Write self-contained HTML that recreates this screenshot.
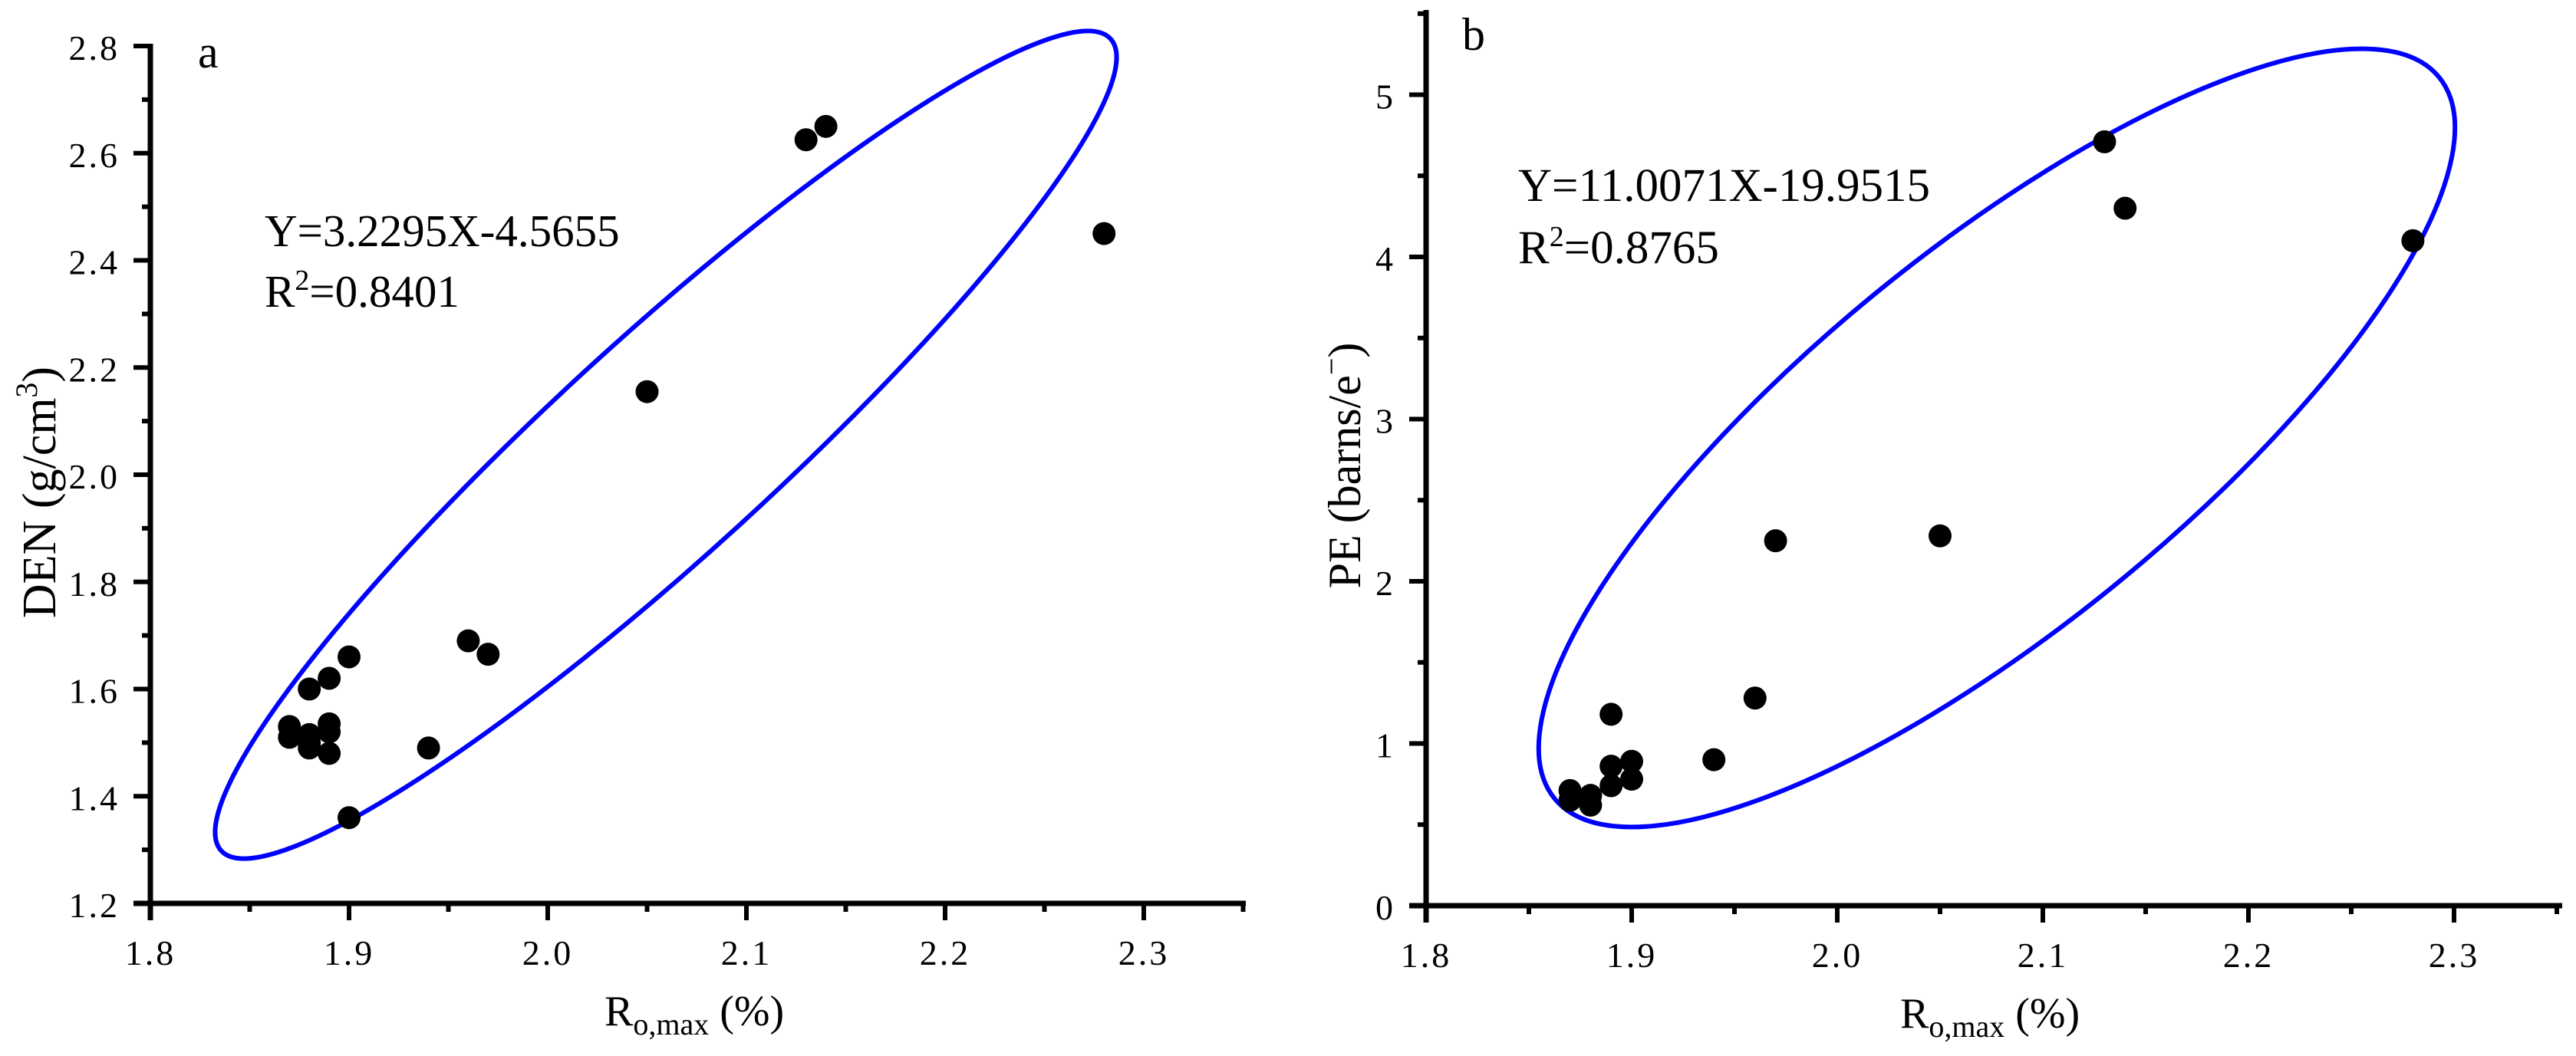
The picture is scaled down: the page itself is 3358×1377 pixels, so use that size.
<!DOCTYPE html>
<html><head><meta charset="utf-8"><style>
html,body{margin:0;padding:0;background:#fff;}
svg{display:block;font-family:"Liberation Serif",serif;}
</style></head><body>
<svg id="chart" width="3358" height="1377" viewBox="0 0 3358 1377" xmlns="http://www.w3.org/2000/svg">
<rect width="3358" height="1377" fill="#fff"/>
<g id="pa"></g>
<g id="pb"></g>
</svg>
<script>
// Panel a data (DEN vs Ro,max)
const aX = [1.87,1.87,1.88,1.88,1.88,1.88,1.89,1.89,1.89,1.89,1.90,1.90,1.94,1.96,1.97,2.05,2.13,2.14,2.28];
const aY = [1.53,1.51,1.60,1.515,1.50,1.49,1.62,1.535,1.52,1.48,1.66,1.36,1.49,1.69,1.665,2.155,2.625,2.65,2.45];
const aXTicks = ["1.8","1.9","2.0","2.1","2.2","2.3"];
const aYTicks = ["1.2","1.4","1.6","1.8","2.0","2.2","2.4","2.6","2.8"];
// Panel b data (PE vs Ro,max)
const bX = [1.87,1.87,1.88,1.88,1.89,1.89,1.89,1.90,1.90,1.94,1.96,1.97,2.05,2.13,2.14,2.28];
const bY = [0.71,0.65,0.68,0.62,1.18,0.86,0.74,0.89,0.78,0.90,1.28,2.25,2.28,4.71,4.30,4.10];
const bXTicks = ["1.8","1.9","2.0","2.1","2.2","2.3"];
const bYTicks = ["0","1","2","3","4","5"];

const NS="http://www.w3.org/2000/svg";
function mk(parent,tag,attrs,text){const e=document.createElementNS(NS,tag);for(const k in attrs)e.setAttribute(k,attrs[k]);if(text!==undefined)e.textContent=text;parent.appendChild(e);return e;}

function panel(g,cfg){
  const sx=v=>cfg.x0+(v-cfg.xmin)*cfg.xs;
  const sy=v=>cfg.y0-(v-cfg.ymin)*cfg.ys;
  // ellipse
  const el=mk(g,'ellipse',{cx:cfg.ell[0],cy:cfg.ell[1],rx:cfg.ell[2],ry:cfg.ell[3],transform:`rotate(${cfg.ell[4]} ${cfg.ell[0]} ${cfg.ell[1]})`,fill:'none',stroke:'#0000ff','stroke-width':6});
  
  
  // axes
  const xa=mk(g,'line',{x1:cfg.x0-22,y1:cfg.y0,x2:cfg.xend,y2:cfg.y0,stroke:'#000','stroke-width':7});
  
  
  const ya=mk(g,'line',{x1:cfg.x0,y1:cfg.y0+22,x2:cfg.x0,y2:cfg.ytop,stroke:'#000','stroke-width':7});
  
  
  // x ticks
  const xmaj=cfg.xTicks.map(Number);
  for(let v=cfg.xmin;v<=cfg.xmaxTick+1e-9;v+=cfg.xstep/2){
    const isMaj=xmaj.some(m=>Math.abs(m-v)<1e-6);
    const t=mk(g,'line',{x1:sx(v),y1:cfg.y0,x2:sx(v),y2:cfg.y0+(isMaj?22:11),stroke:'#000','stroke-width':6});
    
    
  }
  cfg.xTicks.forEach(s=>{
    const t=mk(g,'text',{x:sx(Number(s)),y:cfg.y0+80,'font-size':46,'text-anchor':'middle','letter-spacing':3},s);
    
    
  });
  const ymaj=cfg.yTicks.map(Number);
  for(let v=cfg.ymin;v<=cfg.ymaxTick+1e-9;v+=cfg.ystep/2){
    const isMaj=ymaj.some(m=>Math.abs(m-v)<1e-6);
    const t=mk(g,'line',{x1:cfg.x0,y1:sy(v),x2:cfg.x0-(isMaj?22:11),y2:sy(v),stroke:'#000','stroke-width':6});
    
    
  }
  cfg.yTicks.forEach(s=>{
    const t=mk(g,'text',{x:cfg.x0-40,y:sy(Number(s))+18,'font-size':46,'text-anchor':'end','letter-spacing':3},s);
    
    
  });
  // points
  cfg.xs_.forEach((xv,i)=>{
    const c=mk(g,'circle',{cx:sx(xv),cy:sy(cfg.ys_[i]),r:15,fill:'#000'});
    
    
  });
}

const ga=document.getElementById('pa');
panel(ga,{x0:196,y0:1178,xmin:1.8,xs:2590,ymin:1.2,ys:698.75,xend:1624,ytop:57,xstep:0.1,xmaxTick:2.35,ystep:0.2,ymaxTick:2.8,
  xTicks:aXTicks,yTicks:aYTicks,xs_:aX,ys_:aY,ell:[868,580,785,142,-42.4]});
const gb=document.getElementById('pb');
panel(gb,{x0:1859,y0:1181,xmin:1.8,xs:2680,ymin:0,ys:211.5,xend:3340,ytop:13,xstep:0.1,xmaxTick:2.35,ystep:1,ymaxTick:5.5,
  xTicks:bXTicks,yTicks:bYTicks,xs_:bX,ys_:bY,ell:[2603,571,744,246,-39.2]});
</script>
<svg width="0" height="0" style="position:absolute"></svg>
<script>
(function(){
const svg=document.getElementById('chart');
function add(html){svg.insertAdjacentHTML('beforeend',html);}
add('<text x="258" y="88" font-size="60">a</text>');
add('<text x="345" y="321" font-size="59">Y=3.2295X-4.5655</text>');
add('<text x="345" y="400" font-size="59">R<tspan dy="-22" font-size="38">2</tspan><tspan dy="22">=0.8401</tspan></text>');
add('<text transform="translate(72,642) rotate(-90)" text-anchor="middle" font-size="62">DEN (g/cm<tspan dy="-24" font-size="40">3</tspan><tspan dy="24">)</tspan></text>');
add('<text x="788" y="1337" font-size="56">R<tspan dy="12" font-size="40">o,max</tspan><tspan dy="-12"> (%)</tspan></text>');
add('<text x="1906" y="65" font-size="60">b</text>');
add('<text x="1979" y="262" font-size="61">Y=11.0071X-19.9515</text>');
add('<text x="1979" y="343" font-size="61">R<tspan dy="-22" font-size="38">2</tspan><tspan dy="22">=0.8765</tspan></text>');
add('<text transform="translate(1773,607) rotate(-90)" text-anchor="middle" font-size="60">PE (barns/e<tspan dy="-24" font-size="40">−</tspan><tspan dy="24">)</tspan></text>');
add('<text x="2477" y="1340" font-size="56">R<tspan dy="12" font-size="40">o,max</tspan><tspan dy="-12"> (%)</tspan></text>');
})();
</script>
</body></html>
